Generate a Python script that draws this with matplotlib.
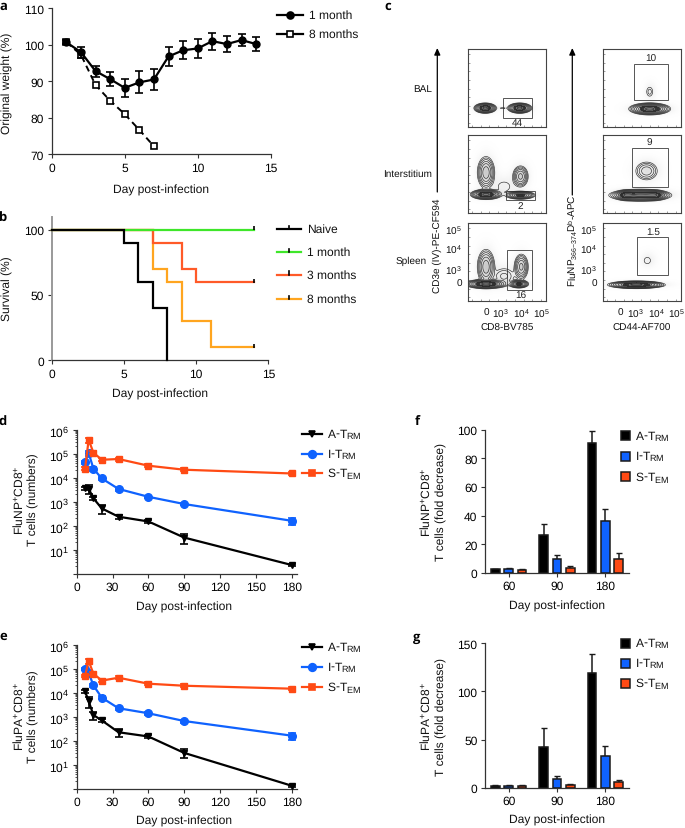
import numpy as np
import matplotlib
matplotlib.use("Agg")
import matplotlib.pyplot as plt
import matplotlib.ticker as mticker
from matplotlib.lines import Line2D
from matplotlib.patches import Rectangle

plt.rcParams['font.family'] = ['Liberation Sans', 'DejaVu Sans']
plt.rcParams['mathtext.fontset'] = 'custom'
plt.rcParams['mathtext.rm'] = 'Liberation Sans'
plt.rcParams['mathtext.it'] = 'Liberation Sans:italic'
plt.rcParams['mathtext.bf'] = 'Liberation Sans:bold'
plt.rcParams['mathtext.default'] = 'rm'
plt.rcParams['text.hinting'] = 'no_hinting'
plt.rcParams['text.hinting_factor'] = 1

W, H = 685, 829
FS = 8.9
DARK = '#333333'

# ---- data ----
days_a = list(range(1, 15))
month1 = [100.7, 98, 92.8, 90.6, 88.2, 89.7, 90.5, 96.8, 98.5, 99, 101, 100.2, 101.3, 100.2]
month1_err = [0.5, 1.5, 1.5, 2, 2.5, 3, 3, 2.7, 2.5, 2.6, 2.3, 2.2, 1.6, 2]
days_a8 = [1, 2, 3, 4, 5, 6, 7]
month8 = [100.7, 97.3, 89, 84.7, 81, 76.7, 72.2]

surv_naive_x = [0, 5, 6, 7, 8]
surv_naive_y = [100, 90, 60, 40, 0]
surv_1m_x = [0, 14]
surv_1m_y = [100, 100]
surv_3m_x = [0, 7, 9, 10, 14]
surv_3m_y = [100, 90, 70, 60, 60]
surv_8m_x = [0, 7, 8, 9, 11, 14]
surv_8m_y = [100, 70, 60, 30, 10, 10]

days_t = [7, 10, 14, 21, 35, 60, 90, 180]
np_a = [3700, 3500, 1380, 525, 237, 150, 32, 2.3]
np_a_err = [500, 1500, 250, 220, 40, 25, 14, 0.2]
np_i = [45000, 107000, 23700, 9300, 3400, 1600, 800, 160]
np_i_err = [6000, 25000, 4000, 1500, 500, 200, 100, 50]
np_s = [23700, 380000, 110000, 56000, 60000, 31600, 21500, 15000]
np_s_err = [3000, 90000, 15000, 8000, 9000, 4000, 3000, 2000]
pa_a = [11500, 4400, 1170, 700, 225, 150, 31, 1.33]
pa_a_err = [1500, 2000, 450, 80, 80, 25, 12, 0.1]
pa_i = [100000, 68000, 20000, 6200, 2250, 1390, 660, 162]
pa_i_err = [10000, 9000, 3000, 900, 350, 200, 90, 50]
pa_s = [51000, 209000, 62000, 32000, 42000, 23700, 19500, 14700]
pa_s_err = [6000, 50000, 8000, 5000, 6000, 3000, 2500, 2000]

bar_days = ['60', '90', '180']
f_a = [2.5, 26.5, 90.5]
f_a_top = [3, 34.5, 99]
f_i = [2.8, 9.5, 36.5]
f_i_top = [3.2, 12.5, 44.5]
f_s = [2.4, 3.8, 10]
f_s_top = [2.8, 4.6, 14]
g_a = [2, 42, 119.5]
g_a_top = [2.4, 62.5, 139]
g_i = [2.2, 9.5, 33]
g_i_top = [2.6, 12.5, 43.5]
g_s = [2, 3, 6]
g_s_top = [2.3, 3.5, 7.5]

# flow panels: blobs are (x, y, rx, ry, weight) in percent of the panel
bal_l = [(22, 24, 13, 6, 1), (66, 24, 14, 6, 1), (44, 24, 9, 2, .025)]
bal_r = [(60, 23, 24, 7, 1), (60, 45, 8, 12, .04)]
int_l = [(23, 52, 12, 22, .3), (23, 24, 18, 6, 1), (67, 47, 11, 15, .25), (67, 23, 18, 5, .6), (46, 34, 20, 16, .03)]
int_r = [(56, 54, 18, 15, .12), (48, 23, 36, 7, 1), (30, 23, 12, 6, .6), (66, 23, 14, 6, .6)]
spl_l = [(23, 44, 12, 24, .3), (23, 22, 24, 5.5, 1), (68, 44, 10, 18, .25), (65, 22, 12, 5, .6), (46, 32, 20, 16, .06)]
spl_r = [(57, 52, 11, 11, .03), (43, 21, 33, 4.5, 1), (72, 20, 8, 2, .02)]
gates = [(45, 12, 37, 25, '44', 63, 6), (40, 34, 43, 47, '10', 62, 88),
         (49, 17, 37, 12, '2', 67, 10), (38, 33, 45, 50, '9', 60, 90),
         (50, 14, 32, 51, '16', 67, 7), (44, 34, 40, 48, '1.5', 65, 89)]

C_A, C_I, C_S = 'black', '#0f62fe', '#ff4a14'
C_GREEN, C_RED, C_ORANGE = '#3fe62a', '#ff5a28', '#ffa51f'

fig = plt.figure(figsize=(W / 100, H / 100), dpi=100)


def axpx(l, t, r, b):
    return fig.add_axes([l / W, 1 - b / H, (r - l) / W, (b - t) / H])


def style(ax):
    for s in ['top', 'right']:
        ax.spines[s].set_visible(False)
    for s in ['left', 'bottom']:
        ax.spines[s].set_linewidth(0.9)
        ax.spines[s].set_color(DARK)
    ax.tick_params(labelsize=FS, length=3, width=0.8, color=DARK, pad=2.5)
    ax.patch.set_alpha(0)


ov = fig.add_axes([0, 0, 1, 1], zorder=10)
ov.set_xlim(0, W)
ov.set_ylim(H, 0)
ov.axis('off')


def T(x, y, s, ha='center', va='center', rot=0, fs=FS, **kw):
    ov.text(x, y, s, ha=ha, va=va, rotation=rot, fontsize=fs, color='#111111', **kw)


def leg(x0, x1, y, tx, label, color, marker=None, ms=6, mfc=None):
    ov.add_line(Line2D([x0, x1], [y, y], color=color, lw=1.6))
    if marker:
        ov.add_line(Line2D([(x0 + x1) / 2], [y], color=color, marker=marker, ms=ms,
                           mfc=mfc or color, mec='black' if marker == 's' and mfc else color, mew=1.2))
    T(tx, y, label, ha='left')


for lab, x, y in [('a', 3, 6), ('b', 3, 218), ('c', 388, 6), ('d', 3, 423), ('e', 3, 636), ('f', 417, 422), ('g', 417, 637)]:
    ov.text(x, y, lab, fontsize=9.5, fontweight='bold', family='Open Sans', ha='center', va='center')

# ---- a ----
ax = axpx(51.7, 9.3, 270.7, 155.3)
style(ax)
ax.plot(days_a8, month8, color='black', dashes=(3.2, 2.2), lw=1.4, zorder=2, clip_on=False)
ax.plot(days_a8, month8, ls='none', marker='s', ms=5, mfc='white', mec='black', mew=1.2, clip_on=False, zorder=3)
ax.errorbar(days_a, month1, yerr=month1_err, color='black', lw=1.6, marker='o', ms=5, capsize=2.7,
            elinewidth=1.2, capthick=1.2, clip_on=False, zorder=4)
ax.set_xlim(0, 15)
ax.set_ylim(70, 110)
ax.set_xticks([0, 5, 10, 15])
ax.set_yticks([70, 80, 90, 100, 110])
T(7, 83, 'Original weight (%)', rot=90)
T(161, 190, 'Day post-infection')
leg(277, 303, 15.7, 309, '1 month', 'black', 'o', 5)
leg(277, 303, 34.7, 309, '8 months', 'black', 's', 5, 'white')

# ---- b ----
ax = axpx(51.7, 218, 268.3, 361.3)
style(ax)
ax.spines['left'].set_color('#999999')
ax.spines['left'].set_linewidth(1.4)
for xs, ys, c, z in [(surv_3m_x, surv_3m_y, C_RED, 3), (surv_8m_x, surv_8m_y, C_ORANGE, 2),
                     (surv_1m_x, surv_1m_y, C_GREEN, 4), (surv_naive_x, surv_naive_y, 'black', 5)]:
    ax.step(xs, ys, where='post', color=c, lw=1.6, zorder=z, solid_joinstyle='miter', clip_on=False)
    if xs[-1] == 14:
        ax.plot([14], [ys[-1] + 1], marker='|', color='black', ms=3.5, mew=1.2, zorder=6, clip_on=False)
ax.set_xlim(0, 15)
ax.set_ylim(0, 109.7)
ax.set_xticks([0, 5, 10, 15])
ax.set_yticks([0, 50, 100])
T(7, 289, 'Survival (%)', rot=90)
T(160, 394, 'Day post-infection')
for y, lab, c in [(230, 'Naive', 'black'), (253, '1 month', C_GREEN), (275.7, '3 months', C_RED), (300, '8 months', C_ORANGE)]:
    leg(277, 301, y, 306.7, lab, c)
    ov.add_line(Line2D([289, 289], [y - 3.5, y], color='black', lw=1.2))


# ---- c ----
def flow(l, t, blobs, gate):
    ax = axpx(l, t, l + 78.3, t + 78.2)
    gx, gy = np.meshgrid(np.linspace(0, 100, 300), np.linspace(0, 100, 300))
    z = np.zeros_like(gx)
    halo = np.zeros_like(gx)
    for cx, cy, rx, ry, w in blobs:
        dx, dy = gx - cx, gy - cy
        z += w * np.exp(-0.5 * ((dx / (rx * .4)) ** 2 + (dy / (ry * .4)) ** 2))
        halo += w ** .4 * np.exp(-0.5 * ((dx / (rx * .6)) ** 2 + (dy / (ry * .6)) ** 2))
    ax.imshow(np.clip(halo, 0, 1), extent=(0, 100, 0, 100), origin='lower', cmap='Greys',
              vmin=0, vmax=2.0, aspect='auto')
    lev = [0.02 * 1.6 ** i for i in range(9)]
    ax.contour(gx, gy, z, levels=lev, colors='#2a2a2a', linewidths=0.45)
    ax.contourf(gx, gy, z, levels=[0.45, 0.8, 2], colors=['#2a2a2a', '#777777'], alpha=.9)
    gxx, gyy, gw, gh, lab, lx, ly = gate
    ax.add_patch(Rectangle((gxx, gyy), gw, gh, fill=False, ec='#555555', lw=0.7))
    ax.text(lx, ly, lab, fontsize=7.2, ha='center', va='center', color='#222222')
    ax.set_xlim(0, 100)
    ax.set_ylim(0, 100)
    ax.set_xticks([])
    ax.set_yticks([])
    ax.set_xticks(np.arange(5, 100, 11), minor=True)
    ax.set_yticks(np.arange(5, 100, 11), minor=True)
    ax.tick_params(which='minor', length=1.2, width=0.4, color='#555555', direction='in')
    for s in ax.spines.values():
        s.set_linewidth(0.8)
        s.set_color('#444444')


flow(468, 49.7, bal_l, gates[0])
flow(602.7, 49.7, bal_r, gates[1])
flow(468, 136, int_l, gates[2])
flow(602.7, 136, int_r, gates[3])
flow(468, 224, spl_l, gates[4])
flow(602.7, 224, spl_r, gates[5])

CFS = 7.2
T(431.7, 89, 'BAL', ha='right', fs=CFS)
T(431.7, 174, 'Interstitium', ha='right', fs=CFS)
T(426.7, 261, 'Spleen', ha='right', fs=CFS)
for x, y0, y1 in [(437.3, 193, 49), (572.3, 196, 49)]:
    ov.annotate('', xy=(x, y1), xytext=(x, y0),
                arrowprops=dict(arrowstyle='-|>,head_width=0.18,head_length=0.4', lw=0.9, color='black', shrinkA=0, shrinkB=0))
T(437.3, 246, 'CD3e (IV)-PE-CF594', rot=90, fs=7.4)
T(572.3, 241, r'FluNP$_{366\mathrm{-}374}$D$^{\mathrm{b}}$-APC', rot=90, fs=7.0)
T(507, 328, 'CD8-BV785', fs=CFS)
T(642, 328, 'CD44-AF700', fs=CFS)
logs = ['0', '$10^3$', '$10^4$', '$10^5$']
for xs, ry in [((486, 500, 521.7, 541.3), 462), ((620.3, 635, 656, 676.7), 596.7)]:
    for x, s in zip(xs, logs):
        T(x, 313.5, s, fs=CFS)
    for y, s in zip((284.7, 271, 250, 230.7), logs):
        T(ry, y, s, ha='right', fs=CFS)


# ---- d, e ----
def lines(t, b, a, ae, i, ie, s, se, name, ly, xly, cy):
    ax = axpx(76.7, t, 296.5, b)
    style(ax)
    for vals, err, c, m, ms, z in [(a, ae, C_A, 'v', 5, 3), (i, ie, C_I, 'o', 5.5, 4), (s, se, C_S, 's', 5, 5)]:
        ax.errorbar(days_t, vals, yerr=err, color=c, lw=1.6, marker=m, ms=ms, capsize=2.6, elinewidth=1.2,
                    capthick=1.2, clip_on=False, zorder=z)
    ax.set_yscale('log')
    ax.set_ylim(1, 1e6)
    ax.set_xlim(0, 184)
    ax.set_xticks(range(0, 181, 30))
    ax.set_yticks([10 ** k for k in range(0, 7)])
    ax.set_yticklabels(['', '$10^1$', '$10^2$', '$10^3$', '$10^4$', '$10^5$', '$10^6$'])
    ax.yaxis.set_minor_locator(mticker.LogLocator(base=10, subs=range(2, 10), numticks=12))
    ax.yaxis.set_minor_formatter(mticker.NullFormatter())
    ax.tick_params(axis='y', which='minor', length=1.6, width=0.6, color=DARK)
    T(19, cy, name, rot=90)
    T(33, cy, 'T cells (numbers)', rot=90)
    T(184, xly, 'Day post-infection')
    for y, lab, c, m, ms in [(ly[0], 'A-T$_{\\mathrm{RM}}$', C_A, 'v', 5), (ly[1], 'I-T$_{\\mathrm{RM}}$', C_I, 'o', 5.5),
                             (ly[2], 'S-T$_{\\mathrm{EM}}$', C_S, 's', 5)]:
        leg(302, 322, y, 326.7, lab, c, m, ms)


lines(430.7, 574.7, np_a, np_a_err, np_i, np_i_err, np_s, np_s_err, 'FluNP$^{+}$CD8$^{+}$', (435, 455, 474), 607, 500)
lines(645.7, 789.7, pa_a, pa_a_err, pa_i, pa_i_err, pa_s, pa_s_err, 'FluPA$^{+}$CD8$^{+}$', (648, 667.7, 687.7), 821.7, 717)


# ---- f, g ----
def bars(t, b, ymax, yt, a, at, i, it, s, st, name, ly, xly, cy):
    ax = axpx(485, t, 629, b)
    style(ax)
    pos = np.arange(3) * 48.3 + 23.7
    for off, v, top, c in [(-13.3, a, at, C_A), (0, i, it, C_I), (13.3, s, st, C_S)]:
        ax.bar(pos + off, v, width=8.6, color=c, edgecolor='#1a1a1a', lw=1.1, zorder=3)
        up = np.array(top) - np.array(v)
        ax.errorbar(pos + off, v, yerr=[np.zeros(3), up], fmt='none', ecolor='#1a1a1a', elinewidth=1.1,
                    capsize=2, capthick=1.0, zorder=2)
    ax.set_xlim(0, 144)
    ax.set_ylim(0, ymax)
    ax.set_xticks(pos)
    ax.set_xticklabels(bar_days)
    ax.set_yticks(yt)
    T(426, cy, name, rot=90)
    T(441, cy, 'T cells (fold decrease)', rot=90)
    T(557, xly, 'Day post-infection')
    for y, lab, c in [(ly[0], 'A-T$_{\\mathrm{RM}}$', C_A), (ly[1], 'I-T$_{\\mathrm{RM}}$', C_I), (ly[2], 'S-T$_{\\mathrm{EM}}$', C_S)]:
        ov.add_patch(Rectangle((621.2, y - 4.5), 9, 9, fc=c, ec='#1a1a1a', lw=1.1))
        T(635, y, lab, ha='left')


bars(430.7, 574, 100, [0, 20, 40, 60, 80, 100], f_a, f_a_top, f_i, f_i_top, f_s, f_s_top,
     'FluNP$^{+}$CD8$^{+}$', (436.7, 457, 477.7), 606, 502)
bars(644.3, 788.7, 150, [0, 50, 100, 150], g_a, g_a_top, g_i, g_i_top, g_s, g_s_top,
     'FluPA$^{+}$CD8$^{+}$', (644, 664.3, 684), 820, 717)

fig.savefig('out.png', dpi=100)
